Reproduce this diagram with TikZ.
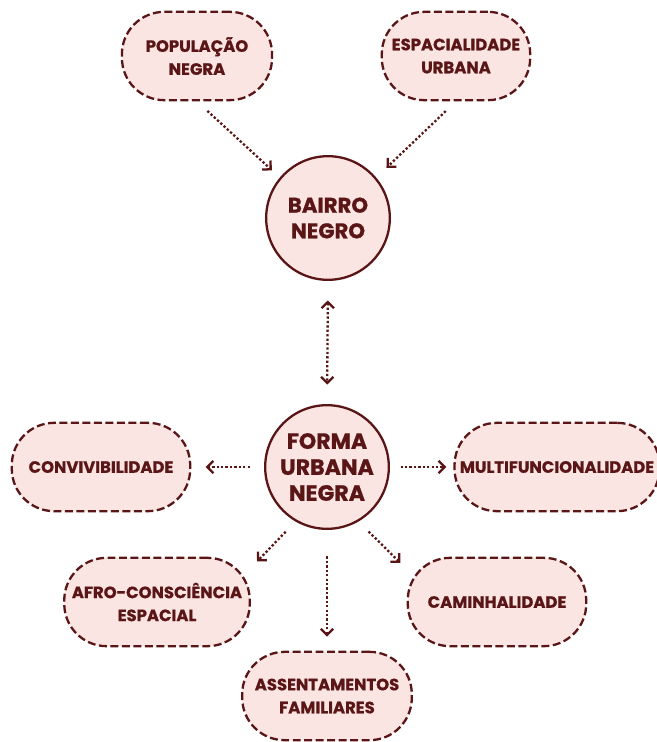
\documentclass[tikz,border=0pt]{standalone}
\usepackage{fontspec}
\setmainfont{Poppins}[BoldFont={Poppins Bold},BoldFeatures={FakeBold=0.8}]
\usetikzlibrary{arrows.meta}
\definecolor{vinho}{HTML}{5A1616}
\definecolor{rosa}{HTML}{FBE5E3}
\begin{document}
\begin{tikzpicture}[x=0.566pt,y=-0.566pt,
	caixa/.style={draw=vinho,fill=rosa,line width=1.3pt,dash pattern=on 4.5pt off 2pt,rounded corners=24pt,minimum height=50pt,align=center,text=vinho,font=\bfseries\fontsize{9.3}{13}\selectfont,inner sep=1pt},
	circulo/.style={draw=vinho,fill=rosa,line width=1.3pt,circle,minimum size=70pt,align=center,text=vinho,inner sep=0pt},
	ponta/.tip={Straight Barb[length=3.5pt,width=7pt,line width=1.3pt]},
	seta/.style={draw=vinho,line width=1.3pt,dash pattern=on 1.3pt off 1.2pt,-ponta}]
		\useasboundingbox (0,0) rectangle (657,742);
		\node[caixa,minimum width=85pt] (pop) at (197,56) {POPULAÇÃO\\NEGRA};
		\node[caixa,minimum width=84pt] (esp) at (456,56) {ESPACIALIDADE\\URBANA};
		\node[circulo,font=\bfseries\fontsize{12}{14.5}\selectfont] (bairro) at (328,218) {BAIRRO\\NEGRO};
		\node[circulo,font=\bfseries\fontsize{12.5}{14.7}\selectfont] (forma) at (327,467) {FORMA\\URBANA\\NEGRA};
		\node[caixa,minimum width=101pt] (conv) at (101,467) {CONVIVIBILIDADE};
		\node[caixa,minimum width=116pt] (multi) at (557,467) {MULTIFUNCIONALIDADE};
		\node[caixa,minimum width=105pt] (afro) at (157,602) {AFRO-CONSCIÊNCIA\\ESPACIAL};
		\node[caixa,minimum width=101pt] (cam) at (497,602) {CAMINHALIDADE};
		\node[caixa,minimum width=96pt] (ass) at (327,696) {ASSENTAMENTOS\\FAMILIARES};
		\draw[seta,shorten <=8pt,shorten >=6pt] (pop.south) -- (bairro.140);
		\draw[seta,shorten <=8pt,shorten >=8pt] (esp.south) -- (bairro.40);
		\draw[seta,ponta-ponta,shorten <=11pt,shorten >=11pt] (bairro.south) -- (forma.north);
		\draw[seta,shorten <=8pt,shorten >=8pt] (forma.west) -- (conv.east);
		\draw[seta,shorten <=6pt,shorten >=4pt] (forma.east) -- (multi.west);
		\draw[seta,shorten <=8pt,shorten >=5pt] (forma.240) -- (afro.20);
		\draw[seta,shorten <=15pt,shorten >=8pt] (forma.south) -- (ass.north);
		\draw[seta,shorten <=8pt,shorten >=5pt] (forma.300) -- (cam.160);
\end{tikzpicture}
\end{document}
